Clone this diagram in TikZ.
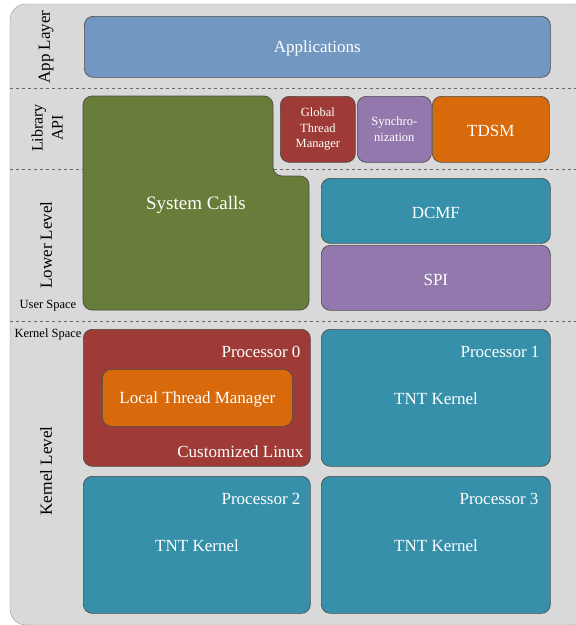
\documentclass[tikz,border=0pt]{standalone}
\usepackage{fontspec}
\setmainfont{Liberation Serif}
\usetikzlibrary{positioning}

\definecolor{bggray}{HTML}{D9D9D9}
\definecolor{appblue}{HTML}{7297C1}
\definecolor{sysgreen}{HTML}{687D39}
\definecolor{mgrred}{HTML}{9E3B36}
\definecolor{synpurple}{HTML}{9378AD}
\definecolor{tdsmorange}{HTML}{D96A0B}
\definecolor{krnteal}{HTML}{3690A9}

\tikzset{
	blk/.style={draw=black!70, line width=0.7pt, rounded corners=9pt, anchor=north west,
		inner sep=0pt},
	lbl/.style={text=white, yshift=-2pt, font=\fontsize{17}{20}\selectfont},
	small/.style={text=white, align=center, font=\fontsize{12.5}{15.5}\selectfont},
	side/.style={rotate=90, font=\fontsize{17}{20}\selectfont, align=center},
	tag/.style={font=\fontsize{12.5}{14}\selectfont},
	proc/.style={text=white, anchor=east, yshift=-1pt, font=\fontsize{17}{20}\selectfont},
	sep/.style={dashed, draw=black!60, line width=0.7pt}
}

\begin{document}
\begin{tikzpicture}[x=1pt, y=-1pt]
		\useasboundingbox (0,0) rectangle (576,625);
		\begin{scope}
			\clip (0,0) rectangle (576,625);
			\draw[fill=bggray, draw=black!40, rounded corners=16pt] (10,4) rectangle (590,625);
		\end{scope}
		
		% layer separators
		\draw[sep] (10,88) -- (576,88);
		\draw[sep] (10,169) -- (576,169);
		\draw[sep] (10,321) -- (576,321);
		
		% side labels
		\node[side] (app) at (46,47) {App Layer};
		\node[side, font=\fontsize{16}{20}\selectfont] (lib) at (47,128) {Library\\API};
		\node[side] (low) at (46,245) {Lower Level};
		\node[side] (krn) at (46,471) {Kernel Level};
		\node[tag] (user) at (48,306) {User Space};
		\node[tag] (kspace) at (48,334) {Kernel Space};
		
		% app layer
		\node[blk, fill=appblue, minimum width=466pt, minimum height=61pt] (apps) at (84,16) {};
		\node[lbl] at (apps.center) {Applications};
		
		% system calls
		\draw[fill=sysgreen, draw=black!70, line width=0.7pt, rounded corners=9pt]
			(83,96) -- (273,96) -- (273,176) -- (309,176) -- (309,310) -- (83,310) -- cycle;
		\node[lbl, font=\fontsize{19}{22}\selectfont] (sys) at (196,203) {System Calls};
		
		% library api
		\node[blk, fill=mgrred, minimum width=75pt, minimum height=66pt] (gtm) at (280,96) {};
		\node[small] at (gtm.center) {Global\\Thread\\Manager};
		\node[blk, fill=synpurple, minimum width=74pt, minimum height=66pt] (sync) at (357,96) {};
		\node[small] at (sync.center) {Synchro-\\nization};
		\node[blk, fill=tdsmorange, minimum width=117pt, minimum height=66pt] (tdsm) at (432,96) {};
		\node[lbl] at (tdsm.center) {TDSM};
		
		% lower level
		\node[blk, fill=krnteal, minimum width=229pt, minimum height=65pt] (dcmf) at (321,178) {};
		\node[lbl] at (dcmf.center) {DCMF};
		\node[blk, fill=synpurple, minimum width=229pt, minimum height=65pt] (spi) at (321,245) {};
		\node[lbl] at (spi.center) {SPI};
		
		% kernel level
		\node[blk, fill=mgrred, minimum width=227pt, minimum height=137pt] (p0) at (83,329) {};
		\node[proc] at (304,351) {Processor 0};
		\node[blk, fill=tdsmorange, minimum width=190pt, minimum height=57pt] (ltm) at (102,369) {};
		\node[lbl] at (ltm.center) {Local Thread Manager};
		\node[proc] at (307,451) {Customized Linux};
		
		\node[blk, fill=krnteal, minimum width=229pt, minimum height=137pt] (p1) at (321,329) {};
		\node[proc] at (543,351) {Processor 1};
		\node[lbl] at (436,397) {TNT Kernel};
		
		\node[blk, fill=krnteal, minimum width=227pt, minimum height=137pt] (p2) at (83,476) {};
		\node[proc] at (304,498) {Processor 2};
		\node[lbl] at (197,544) {TNT Kernel};
		
		\node[blk, fill=krnteal, minimum width=229pt, minimum height=137pt] (p3) at (321,476) {};
		\node[proc] at (542,498) {Processor 3};
		\node[lbl] at (436,544) {TNT Kernel};
	\end{tikzpicture}
\end{document}
